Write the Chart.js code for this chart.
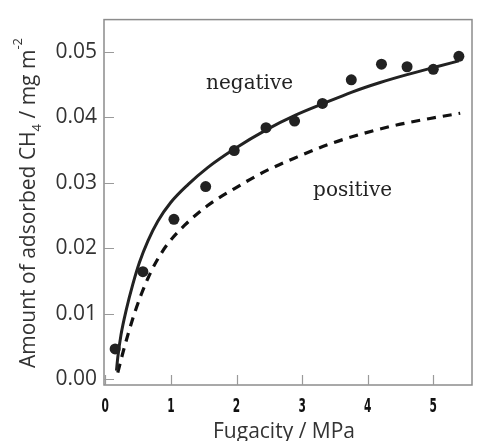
<!DOCTYPE html>
<html>
<head>
<meta charset="utf-8">
<script src="https://cdn.jsdelivr.net/npm/chart.js@4/dist/chart.umd.min.js"></script>
<style>
  html, body { margin: 0; padding: 0; background: #fff; }
  #wrap { width: 478px; height: 441px; }
</style>
</head>
<body>
<div id="wrap"><canvas id="c" width="478" height="441"></canvas></div>
<script>
// Measured CH4 adsorption (fugacity in MPa, amount in mg m^-2)
const fugacity = [0.150, 0.573, 1.046, 1.53, 1.965, 2.45, 2.885, 3.31, 3.75, 4.21, 4.60, 5.00, 5.39];
const adsorbed = [0.0046, 0.0164, 0.0244, 0.0294, 0.0349, 0.0384, 0.0394, 0.0421, 0.0457, 0.0481, 0.0477, 0.0473, 0.0493];

// Fitted isotherm, negative surface (solid)
const negativeX = [0.17, 0.19, 0.24, 0.32, 0.42, 0.52, 0.65, 0.80, 1.00, 1.26, 1.56, 1.96, 2.46, 2.90, 3.33, 3.75, 4.19, 4.60, 5.05, 5.39];
const negativeY = [0.0013, 0.0033, 0.0068, 0.0106, 0.0145, 0.0178, 0.0211, 0.0241, 0.0270, 0.0297, 0.0323, 0.0351, 0.0381, 0.0403, 0.0421, 0.0438, 0.0453, 0.0465, 0.0477, 0.0486];

// Fitted isotherm, positive surface (dashed)
const positiveX = [0.19, 0.27, 0.345, 0.45, 0.55, 0.65, 0.78, 0.955, 1.21, 1.56, 1.97, 2.41, 2.92, 3.42, 3.93, 4.44, 4.95, 5.41];
const positiveY = [0.0010, 0.0041, 0.0068, 0.0102, 0.0130, 0.0154, 0.0180, 0.0207, 0.0235, 0.0265, 0.0291, 0.0316, 0.0339, 0.0359, 0.0375, 0.0388, 0.0398, 0.0406];

const xTicks = [0, 1, 2, 3, 4, 5];
const yTicks = [0.00, 0.01, 0.02, 0.03, 0.04, 0.05];

const toPoints = (xs, ys) => xs.map((x, i) => ({ x: x, y: ys[i] }));

const INK = '#222222';
const FRAME = '#8c8c8c';
const SANS = "'Open Sans', 'DejaVu Sans', sans-serif";
const SERIF = "'DejaVu Serif', 'Liberation Serif', serif";

// Frame, inward tick marks, condensed x tick labels, axis titles and curve labels
const decorations = {
  id: 'decorations',
  afterDraw(chart) {
    const { ctx, chartArea: a, scales } = chart;
    const xs = scales.x, ys = scales.y;
    ctx.save();

    // plot frame
    ctx.strokeStyle = FRAME;
    ctx.lineWidth = 1.5;
    ctx.strokeRect(a.left, a.top, a.right - a.left, a.bottom - a.top);

    // inward tick marks
    ctx.lineWidth = 1.2;
    ctx.strokeStyle = '#9a9a9a';
    ctx.beginPath();
    ys.ticks.forEach(t => {
      const py = Math.round(ys.getPixelForValue(t.value)) + 0.5;
      ctx.moveTo(a.left, py);
      ctx.lineTo(a.left + 10, py);
    });
    xs.ticks.forEach(t => {
      const px = Math.round(xs.getPixelForValue(t.value)) + 0.5;
      ctx.moveTo(px, a.bottom);
      ctx.lineTo(px, a.bottom - 10);
    });
    ctx.stroke();

    // x tick labels in a tall condensed face
    ctx.fillStyle = '#111';
    ctx.font = "bold 19px 'DejaVu Sans', sans-serif";
    ctx.textAlign = 'center';
    ctx.textBaseline = 'alphabetic';
    xs.ticks.forEach(t => {
      const px = xs.getPixelForValue(t.value);
      ctx.save();
      ctx.translate(px, 411.5);
      ctx.scale(0.56, 1);
      ctx.fillText(String(t.value), 0, 0);
      ctx.restore();
    });

    // curve labels
    ctx.fillStyle = INK;
    ctx.font = '20px ' + SERIF;
    ctx.textAlign = 'center';
    ctx.textBaseline = 'middle';
    ctx.fillText('negative', xs.getPixelForValue(2.20), ys.getPixelForValue(0.0451));
    ctx.fillText('positive', xs.getPixelForValue(3.77), ys.getPixelForValue(0.0287));

    // x axis title
    ctx.fillStyle = '#333';
    ctx.font = '21px ' + SANS;
    ctx.textBaseline = 'alphabetic';
    ctx.fillText('Fugacity / MPa', (a.left + a.right) / 2 - 4, 438);

    // y axis title with subscript and superscript
    const parts = [
      { t: 'Amount of adsorbed CH', size: 21, dy: 0 },
      { t: '4', size: 13, dy: 6 },
      { t: ' / mg m', size: 21, dy: 0 },
      { t: '-2', size: 13, dy: -13 }
    ];
    let total = 0;
    parts.forEach(p => { ctx.font = p.size + 'px ' + SANS; p.w = ctx.measureText(p.t).width; total += p.w; });
    ctx.translate(35, 203);
    ctx.rotate(-Math.PI / 2);
    ctx.textAlign = 'left';
    let cx = -total / 2;
    parts.forEach(p => {
      ctx.font = p.size + 'px ' + SANS;
      ctx.fillText(p.t, cx, p.dy);
      cx += p.w;
    });
    ctx.restore();
  }
};

new Chart(document.getElementById('c'), {
  type: 'scatter',
  data: {
    datasets: [
      {
        label: 'measured',
        data: toPoints(fugacity, adsorbed),
        backgroundColor: INK,
        borderColor: INK,
        pointRadius: 5.5,
        pointBorderWidth: 0,
        showLine: false,
        order: 0
      },
      {
        label: 'negative',
        data: toPoints(negativeX, negativeY),
        showLine: true,
        borderColor: INK,
        borderWidth: 3,
        pointRadius: 0,
        cubicInterpolationMode: 'monotone',
        fill: false,
        order: 1
      },
      {
        label: 'positive',
        data: toPoints(positiveX, positiveY),
        showLine: true,
        borderColor: '#111',
        borderWidth: 3.2,
        borderDash: [9, 7],
        pointRadius: 0,
        cubicInterpolationMode: 'monotone',
        fill: false,
        order: 2
      }
    ]
  },
  options: {
    responsive: false,
    devicePixelRatio: 1,
    animation: false,
    layout: { padding: { top: 12, right: 6, left: 0, bottom: 0 } },
    plugins: { legend: { display: false }, tooltip: { enabled: false } },
    scales: {
      x: {
        type: 'linear',
        min: -0.02,
        max: 5.59,
        afterBuildTicks: s => { s.ticks = xTicks.map(v => ({ value: v })); },
        afterFit: s => { s.height = 56; },
        grid: { display: false, drawTicks: false },
        border: { display: false },
        ticks: { display: false, autoSkip: false, maxRotation: 0 }
      },
      y: {
        type: 'linear',
        min: -0.0009,
        max: 0.0549,
        afterBuildTicks: s => { s.ticks = yTicks.map(v => ({ value: v })); },
        afterFit: s => { s.width = 104; },
        grid: { display: false, drawTicks: false },
        border: { display: false },
        ticks: {
          autoSkip: false,
          padding: 7,
          color: '#333',
          font: { family: SANS, size: 21 },
          callback: v => Number(v).toFixed(2)
        }
      }
    }
  },
  plugins: [decorations]
});
</script>
</body>
</html>
